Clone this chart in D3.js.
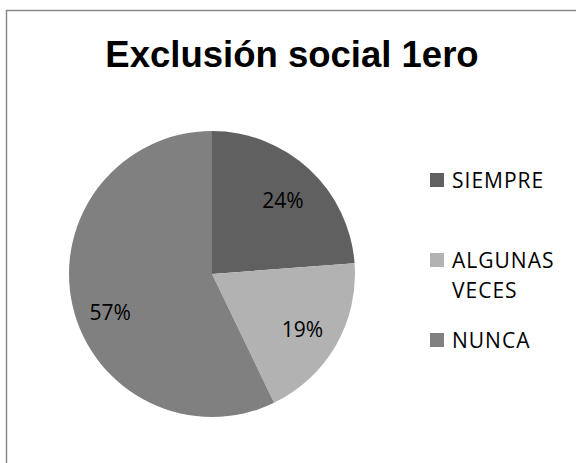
<!DOCTYPE html>
<html>
<head>
<meta charset="utf-8">
<script src="https://cdn.jsdelivr.net/npm/d3@7"></script>
<style>
  body { margin: 0; background: #fff; }
  svg { display: block; }
</style>
</head>
<body>
<svg width="576" height="463"></svg>
<script>
var categories = ["SIEMPRE", "ALGUNAS VECES", "NUNCA"];
var values = [10, 8, 24];
var labels = ["24%", "19%", "57%"];
var legendLines = [["SIEMPRE"], ["ALGUNAS", "VECES"], ["NUNCA"]];
var colors = ["#606060", "#b2b2b2", "#808080"];

var svg = d3.select("svg"),
    width = +svg.attr("width"),
    height = +svg.attr("height");

// outer chart border (runs off the right/bottom edge)
svg.append("rect")
    .attr("x", 6.5).attr("y", 10.5)
    .attr("width", 600).attr("height", 500)
    .style("fill", "#fff")
    .style("stroke", "#898989")
    .style("stroke-width", "1.5px");

svg.append("text")
    .attr("x", 292)
    .attr("y", 67)
    .attr("text-anchor", "middle")
    .style("font-family", "Liberation Sans, Arial, sans-serif")
    .style("font-weight", "bold")
    .style("font-size", "36.5px")
    .text("Exclusión social 1ero");

var cx = 212, cy = 274, r = 143;

var pie = d3.pie().sort(null).value(function (d) { return d; });
var arc = d3.arc().innerRadius(0).outerRadius(r);
var labelArc = d3.arc().innerRadius(r * 0.73).outerRadius(r * 0.73);

var g = svg.append("g").attr("transform", "translate(" + cx + "," + cy + ")");
var arcs = pie(values);

g.selectAll("path")
    .data(arcs)
    .enter()
    .append("path")
    .attr("d", arc)
    .style("fill", function (d, i) { return colors[i]; });

g.selectAll("text.lbl")
    .data(arcs)
    .enter()
    .append("text")
    .attr("class", "lbl")
    .attr("transform", function (d) {
        var c = labelArc.centroid(d);
        c[1] += 3;
        // big slice label sits a little lower in the original
        if (d.index == 2) c[1] += 12;
        return "translate(" + c + ")";
    })
    .attr("text-anchor", "middle")
    .attr("dy", "0.35em")
    .style("font-family", "Open Sans, sans-serif")
    .style("font-size", "21px")
    .style("fill", "#000")
    .text(function (d, i) { return labels[i]; });

// legend
var ly = d3.scaleOrdinal().domain(categories).range([180, 260, 340]);
var leg = svg.append("g");
categories.forEach(function (c, i) {
    var y = ly(c);
    leg.append("rect")
        .attr("x", 430).attr("y", y - 7)
        .attr("width", 14).attr("height", 14)
        .style("fill", colors[i]);
    leg.append("text")
        .attr("x", 452).attr("y", y)
        .style("font-family", "Open Sans, sans-serif")
        .style("font-size", "21px")
        .style("letter-spacing", "1px")
        .style("fill", "#000")
        .selectAll("tspan")
        .data(legendLines[i])
        .enter()
        .append("tspan")
        .attr("x", 452)
        .attr("dy", function (d, k) { return k == 0 ? "0.36em" : "30px"; })
        .text(function (d) { return d; });
});
</script>
</body>
</html>
